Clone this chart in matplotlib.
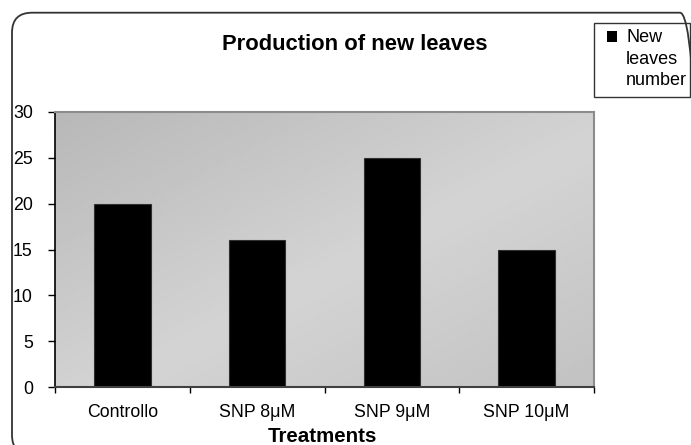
import numpy as np
import matplotlib
matplotlib.use("Agg")
import matplotlib.pyplot as plt
from matplotlib.patches import FancyBboxPatch, Rectangle
from matplotlib.transforms import IdentityTransform

plt.rcParams["font.family"] = ["Liberation Sans", "DejaVu Sans"]

categories = ["Controllo", "SNP 8μM", "SNP 9μM", "SNP 10μM"]
new_leaves = [20, 16, 25, 15]
yticks = [0, 5, 10, 15, 20, 25, 30]
title = "Production of new leaves"
xlabel = "Treatments"
legend_label = "New leaves number"

W, H = 691, 445
fig = plt.figure(figsize=(W / 100, H / 100), dpi=100)

# plot area in pixels: x 55..594, y 112..387
ax = fig.add_axes([55 / W, 1 - 387 / H, (594 - 55) / W, (387 - 112) / H])

x = np.arange(len(categories))

# grey gradient background (darker top-left)
gx, gy = np.meshgrid(np.linspace(0, 1, 300), np.linspace(0, 1, 300))
t = (gx + gy) / 2
shade = np.interp(t, [0, 0.55, 1], [0.72, 0.83, 0.76])
ax.imshow(shade, cmap="gray", vmin=0, vmax=1, extent=(-0.5, 3.5, 0, 30),
          aspect="auto", zorder=0, interpolation="bilinear")

ax.bar(x, new_leaves, width=0.42, color="black", edgecolor="#303030",
       linewidth=0.8, zorder=2)

ax.set_xlim(-0.5, 3.5)
ax.set_ylim(0, 30)
ax.set_yticks(yticks)
ax.set_xticks(x, categories)
ax.set_xticks(np.arange(-0.5, 4, 1), minor=True)
ax.tick_params(axis="y", length=5, width=1, pad=11, labelsize=12.8, colors="black")
ax.tick_params(axis="x", which="major", length=0, pad=12, labelsize=12.8)
ax.tick_params(axis="x", which="minor", length=4.5, width=1)

for side in ["top", "right"]:
    ax.spines[side].set_color("#8c8c8c")
    ax.spines[side].set_linewidth(1.5)
ax.spines["bottom"].set_color("#404040")
ax.spines["bottom"].set_linewidth(1.5)
ax.spines["left"].set_color("black")
ax.spines["left"].set_linewidth(1.2)

fig.text(355 / W, 1 - 50 / H, title, ha="center", va="baseline",
         fontsize=15.8, weight="bold")
fig.text(322 / W, 1 - 441.5 / H, xlabel, ha="center", va="baseline",
         fontsize=14.8, weight="bold")

# legend box
fig.add_artist(Rectangle((594 / W, 1 - 97 / H), 96 / W, 74 / H,
                         transform=fig.transFigure, facecolor="white",
                         edgecolor="#333333", linewidth=1))
fig.add_artist(Rectangle((607 / W, 1 - 42 / H), 10 / W, 11 / H,
                         transform=fig.transFigure, facecolor="black",
                         edgecolor="black", linewidth=0))
for word, base in zip(legend_label.split(), [42, 63.5, 85]):
    fig.text(626 / W, 1 - base / H, word, ha="left", va="baseline", fontsize=13)

# rounded chart border
fig.add_artist(FancyBboxPatch((12, -10), 688, H - 12.7 + 10,
                              boxstyle="round,pad=0,rounding_size=20",
                              transform=IdentityTransform(), facecolor="none",
                              edgecolor="#333333", linewidth=1.3))

fig.savefig("out.png", dpi=100)
